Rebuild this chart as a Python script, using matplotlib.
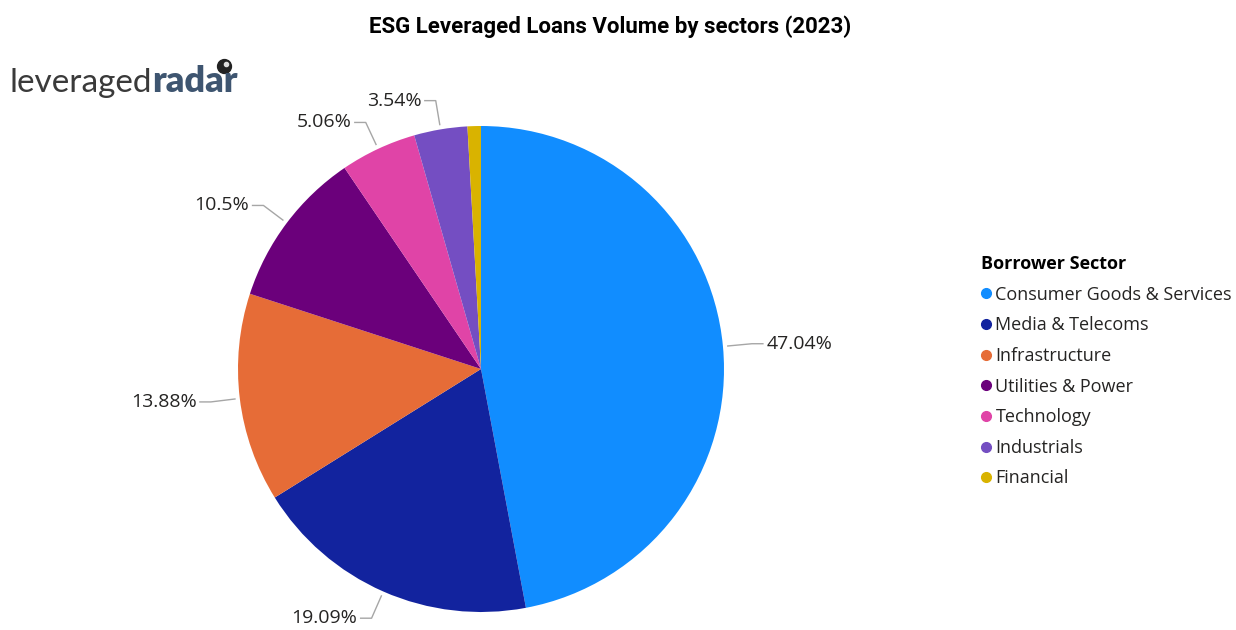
import matplotlib
matplotlib.use("Agg")
import matplotlib.pyplot as plt
from matplotlib.lines import Line2D
import numpy as np

# Sector shares of 2023 ESG leveraged loan volume (%)
sectors = ["Consumer Goods & Services", "Media & Telecoms", "Infrastructure",
           "Utilities & Power", "Technology", "Industrials", "Financial"]
shares = [47.04, 19.09, 13.88, 10.5, 5.06, 3.54, 0.89]
share_labels = ["47.04%", "19.09%", "13.88%", "10.5%", "5.06%", "3.54%", ""]
colors = ["#118DFF", "#12239E", "#E66C37", "#6B007B", "#E044A7", "#744EC2", "#D9B300"]

W, H, DPI = 1236, 630, 100
fig = plt.figure(figsize=(W / DPI, H / DPI), dpi=DPI)
fig.patch.set_facecolor("white")

def px(x, y):
    """Pixel position (from top-left) to figure fraction."""
    return x / W, 1 - y / H

# Pie axes: centre (481, 369) px, radius 243 px
cx, cy, r = 481, 369, 243
ax = fig.add_axes([(cx - r) / W, (H - cy - r) / H, 2 * r / W, 2 * r / H])

wedges, _ = ax.pie(shares, colors=colors, startangle=90, counterclock=False,
                   radius=1, wedgeprops=dict(linewidth=0))
ax.set_xlim(-1, 1)
ax.set_ylim(-1, 1)
ax.set_aspect("equal")
ax.axis("off")

label_font = dict(family=["Open Sans", "DejaVu Sans"], size=14, color="#252423")
for w, lab in zip(wedges, share_labels):
    if not lab:
        continue
    theta = np.deg2rad((w.theta1 + w.theta2) / 2)
    c, s = np.cos(theta), np.sin(theta)
    p1 = (1.02 * c, 1.02 * s)
    p2 = (1.12 * c, 1.12 * s)
    side = 1 if c >= 0 else -1
    p3 = (p2[0] + side * 0.045, p2[1])
    ax.plot([p1[0], p2[0], p3[0]], [p1[1], p2[1], p3[1]], color="#a6a6a6",
            lw=1, clip_on=False)
    ax.text(p3[0] + side * 0.014, p3[1], lab, ha="left" if side > 0 else "right",
            va="center", clip_on=False, **label_font)

# Title
tx, ty = px(610, 27)
fig.text(tx, ty, "ESG Leveraged Loans Volume by sectors (2023)", ha="center",
         va="center", family=["Roboto", "DejaVu Sans"], weight="bold", size=16,
         color="#000000")

# Brand wordmark
renderer = fig.canvas.get_renderer()
bx, by = px(10, 92)
t1 = fig.text(bx, by, "leveraged", ha="left", va="baseline",
              family=["Lato", "DejaVu Sans"], weight="normal", size=24,
              color="#3a3a3a")
ext = t1.get_window_extent(renderer=renderer)
t2 = fig.text(ext.x1 / W, by, "radar", ha="left", va="baseline",
              family=["Lato", "DejaVu Sans"], weight="heavy", size=26,
              color="#3e5570")
ext2 = t2.get_window_extent(renderer=renderer)
dx, dy = (ext2.x1 - 14) / W, 1 - 66 / H
fig.add_artist(Line2D([dx], [dy], marker="o", markersize=10, color="#222222",
                      transform=fig.transFigure))
fig.add_artist(Line2D([dx + 2 / W], [dy + 2 / H], marker="o", markersize=3,
                      color="#dddddd", transform=fig.transFigure))

# Legend
handles = [Line2D([0], [0], marker="o", linestyle="none", markersize=7,
                  markerfacecolor=col, markeredgecolor=col) for col in colors]
lx, ly = px(972, 246)
leg = fig.legend(handles, sectors, loc="upper left", bbox_to_anchor=(lx, ly),
                 frameon=False, title="Borrower Sector", handlelength=0.5,
                 handletextpad=0.3, labelspacing=0.70, borderpad=0,
                 prop=dict(family=["Open Sans", "DejaVu Sans"], size=13),
                 title_fontproperties=dict(family=["Open Sans", "DejaVu Sans"],
                                           weight="bold", size=13))
leg._legend_box.align = "left"
for t in leg.get_texts():
    t.set_color("#252423")

fig.savefig("out.png", dpi=DPI, facecolor="white")
